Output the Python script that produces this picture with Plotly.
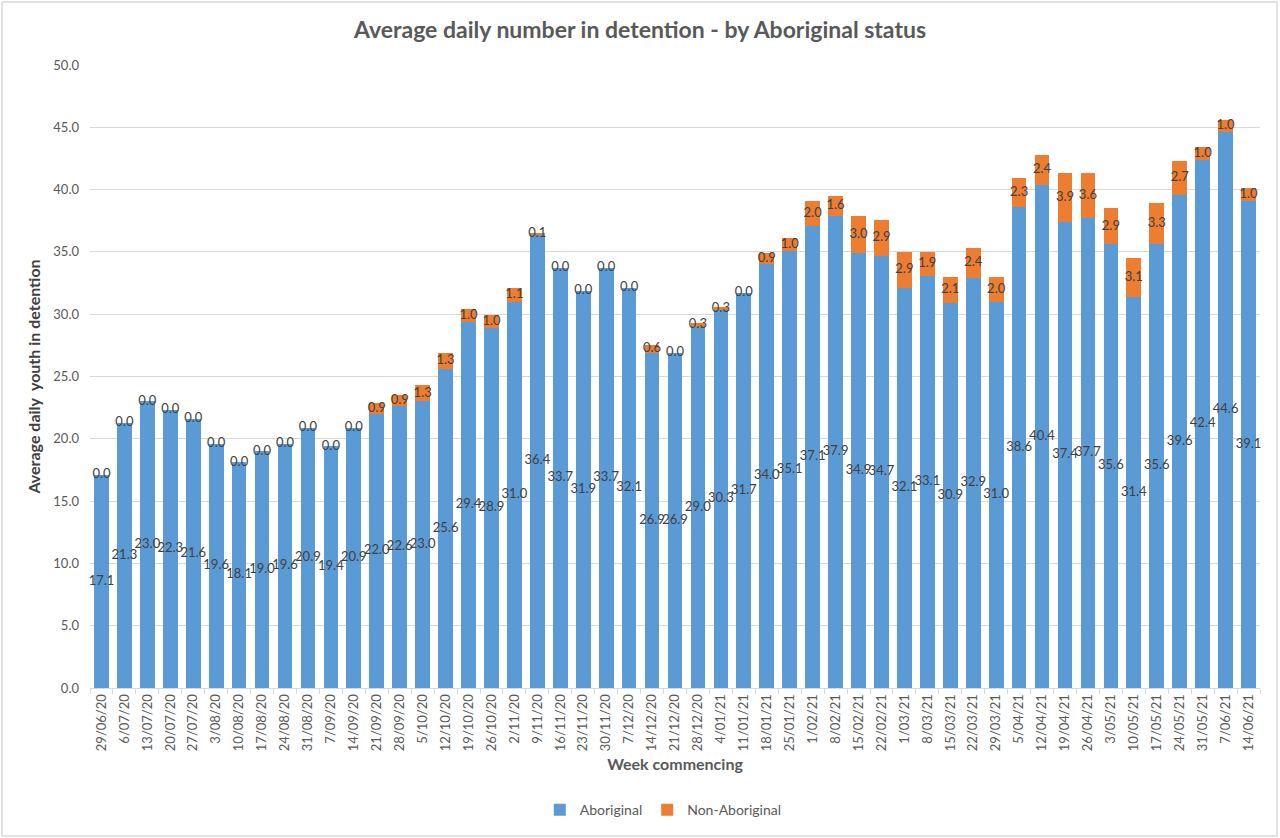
import plotly.graph_objects as go

# weekly data
weeks = ["29/06/20", "6/07/20", "13/07/20", "20/07/20", "27/07/20", "3/08/20",
         "10/08/20", "17/08/20", "24/08/20", "31/08/20", "7/09/20", "14/09/20",
         "21/09/20", "28/09/20", "5/10/20", "12/10/20", "19/10/20", "26/10/20",
         "2/11/20", "9/11/20", "16/11/20", "23/11/20", "30/11/20", "7/12/20",
         "14/12/20", "21/12/20", "28/12/20", "4/01/21", "11/01/21", "18/01/21",
         "25/01/21", "1/02/21", "8/02/21", "15/02/21", "22/02/21", "1/03/21",
         "8/03/21", "15/03/21", "22/03/21", "29/03/21", "5/04/21", "12/04/21",
         "19/04/21", "26/04/21", "3/05/21", "10/05/21", "17/05/21", "24/05/21",
         "31/05/21", "7/06/21", "14/06/21"]

aboriginal = [17.1, 21.3, 23.0, 22.3, 21.6, 19.6, 18.1, 19.0, 19.6, 20.9,
              19.4, 20.9, 22.0, 22.6, 23.0, 25.6, 29.4, 28.9, 31.0, 36.4,
              33.7, 31.9, 33.7, 32.1, 26.9, 26.9, 29.0, 30.3, 31.7, 34.0,
              35.1, 37.1, 37.9, 34.9, 34.7, 32.1, 33.1, 30.9, 32.9, 31.0,
              38.6, 40.4, 37.4, 37.7, 35.6, 31.4, 35.6, 39.6, 42.4, 44.6, 39.1]

non_aboriginal = [0.0, 0.0, 0.0, 0.0, 0.0, 0.0, 0.0, 0.0, 0.0, 0.0,
                  0.0, 0.0, 0.9, 0.9, 1.3, 1.3, 1.0, 1.0, 1.1, 0.1,
                  0.0, 0.0, 0.0, 0.0, 0.6, 0.0, 0.3, 0.3, 0.0, 0.9,
                  1.0, 2.0, 1.6, 3.0, 2.9, 2.9, 1.9, 2.1, 2.4, 2.0,
                  2.3, 2.4, 3.9, 3.6, 2.9, 3.1, 3.3, 2.7, 1.0, 1.0, 1.0]

y_ticks = [0, 5, 10, 15, 20, 25, 30, 35, 40, 45, 50]

FONT = "Lato"
GREY = "#595959"
LABEL = "#404040"

fig = go.Figure()

fig.add_trace(go.Bar(x=weeks, y=aboriginal, name="Aboriginal",
                     marker=dict(color="#5B9BD5", line=dict(width=0))))
fig.add_trace(go.Bar(x=weeks, y=non_aboriginal, name="Non-Aboriginal",
                     marker=dict(color="#ED7D31", line=dict(width=0))))

# data labels centred in each segment, like excel does
fig.add_trace(go.Scatter(x=weeks, y=[a / 2 for a in aboriginal],
                         text=["%.1f" % a for a in aboriginal],
                         mode="text", textfont=dict(family=FONT, size=13, color=LABEL),
                         showlegend=False, hoverinfo="skip", cliponaxis=False))
fig.add_trace(go.Scatter(x=weeks, y=[a + n / 2 for a, n in zip(aboriginal, non_aboriginal)],
                         text=["%.1f" % n for n in non_aboriginal],
                         mode="text", textfont=dict(family=FONT, size=13, color=LABEL),
                         showlegend=False, hoverinfo="skip", cliponaxis=False))

fig.update_layout(
    width=1280, height=838,
    barmode="stack", bargap=0.36,
    paper_bgcolor="white", plot_bgcolor="white",
    margin=dict(l=90, r=20, t=65, b=150),
    font=dict(family=FONT, color=GREY),
    title=dict(text="<b>Average daily number in detention - by Aboriginal status</b>",
               x=0.5, xanchor="center", y=0.964, yanchor="middle",
               font=dict(family=FONT, size=23, color=GREY)),
    legend=dict(orientation="h", x=0.49, xanchor="center", y=-0.196, yanchor="middle",
                font=dict(family=FONT, size=14, color=GREY), traceorder="normal",
                itemwidth=30),
    showlegend=True,
    hovermode=False,
    shapes=[dict(type="rect", xref="paper", yref="paper",
                 x0=-88 / 1170, x1=1 + 17 / 1170, y0=-148 / 623, y1=1 + 63 / 623,
                 line=dict(color="#d9d9d9", width=1.5))],
)

fig.update_xaxes(
    type="category", tickangle=-90, automargin=False,
    range=[-0.5, len(weeks) - 0.5],
    tickfont=dict(family=FONT, size=13, color=GREY),
    showline=True, linecolor="#d9d9d9", linewidth=1,
    ticks="outside", tickson="boundaries", ticklen=5, tickcolor="#d9d9d9",
    showgrid=False,
    title=dict(text="<b>Week commencing</b>", standoff=8,
               font=dict(family=FONT, size=16, color=GREY)),
)

fig.update_yaxes(
    range=[0, 50], tickvals=y_ticks, ticktext=["%.1f" % t for t in y_ticks],
    automargin=False,
    tickfont=dict(family=FONT, size=13, color=GREY),
    showgrid=True, gridcolor="#d9d9d9", gridwidth=1,
    zeroline=False, ticks="", ticklabelstandoff=10,
    title=dict(text="<b>Average daily  youth in detention</b>", standoff=8,
               font=dict(family=FONT, size=16, color="#404040")),
)

fig.write_html("out.html", config={"displayModeBar": False},
               post_script="document.body.style.margin='0';")
